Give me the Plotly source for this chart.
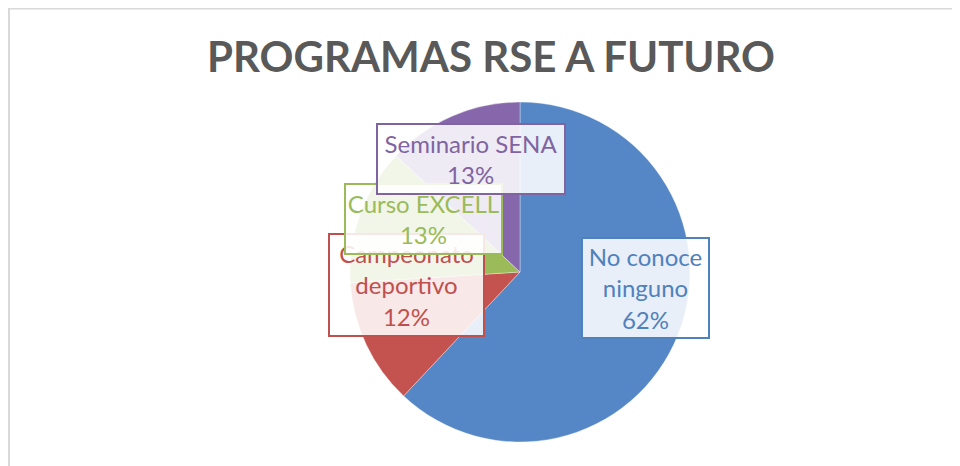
import plotly.graph_objects as go

# ---- data ----
categories = ["No conoce ninguno", "Campeonato deportivo", "Curso EXCELL", "Seminario SENA"]
values = [62, 12, 13, 13]
slice_colors = ["#5587C6", "#C4524F", "#9BBB59", "#8667AC"]
text_colors = ["#4F81BD", "#C0504D", "#9BBB59", "#8064A2"]
label_texts = ["No conoce<br>ninguno<br>62%", "Campeonato<br>deportivo<br>12%",
               "Curso EXCELL<br>13%", "Seminario SENA<br>13%"]

# page is drawn with an 8px body margin, so the figure is 952x458 offset by 8px
OFF = 8
W, H = 960 - OFF, 466 - OFF

def px(x):
    return (x - OFF) / W

def py(y):
    return 1 - (y - OFF) / H

cx, cy, r = 520, 272, 170

fig = go.Figure()
fig.add_trace(go.Pie(
    labels=categories,
    values=values,
    sort=False,
    direction="clockwise",
    rotation=0,
    marker=dict(colors=slice_colors, line=dict(color="rgba(255,255,255,0.35)", width=1)),
    textinfo="none",
    showlegend=False,
    domain=dict(x=[px(cx - r), px(cx + r)], y=[py(cy + r), py(cy - r)]),
))

# label boxes (left, top, right, bottom) in page pixels
boxes = {
    "No conoce ninguno": (581, 237, 710, 339),
    "Campeonato deportivo": (328, 233, 485, 337),
    "Curso EXCELL": (344, 183, 503, 255),
    "Seminario SENA": (376, 123, 566, 195),
}
order = ["No conoce ninguno", "Campeonato deportivo", "Curso EXCELL", "Seminario SENA"]
annotations = []
for name in order:
    i = categories.index(name)
    l, t, rr, b = boxes[name]
    annotations.append(dict(
        x=px((l + rr) / 2), y=py((t + b) / 2), xref="paper", yref="paper",
        xanchor="center", yanchor="middle",
        text=label_texts[i], showarrow=False,
        font=dict(family="Lato, Open Sans, sans-serif", size=24, color=text_colors[i]),
        bgcolor="rgba(255,255,255,0.87)", bordercolor=text_colors[i], borderwidth=2, borderpad=0,
        width=rr - l - 4, height=b - t - 4, align="center",
    ))

fig.update_layout(
    width=W, height=H,
    margin=dict(l=0, r=0, t=0, b=0),
    paper_bgcolor="white",
    plot_bgcolor="white",
    title=dict(text="<b>PROGRAMAS RSE A FUTURO</b>", x=px(491), xanchor="center",
               y=py(57), yanchor="middle", xref="paper", yref="container",
               font=dict(family="Lato, Open Sans, sans-serif", size=42, color="#595959")),
    annotations=annotations,
    shapes=[dict(type="rect", xref="paper", yref="paper",
                 x0=0.001, x1=1.02, y0=-0.02, y1=0.999,
                 line=dict(color="#D9D9D9", width=2), fillcolor="rgba(0,0,0,0)", layer="below")],
)

fig.write_html("out.html")
